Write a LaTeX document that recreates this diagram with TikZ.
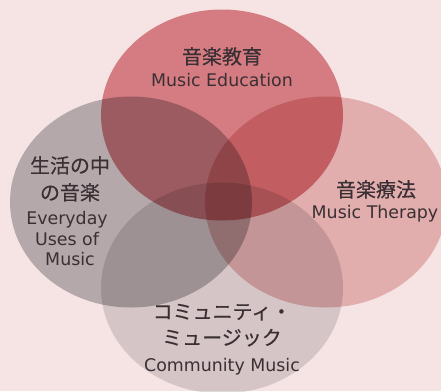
\documentclass[tikz,border=0pt]{standalone}
\usepackage{fontspec}
\setmainfont{DejaVu Sans}
\newfontfamily\jpfont[FakeBold=0.4]{Noto Sans CJK JP}
\usetikzlibrary{shapes.geometric}
\definecolor{bgpink}{HTML}{F6E4E5}
\definecolor{topc}{HTML}{DC8B91}
\definecolor{rightc}{HTML}{EAC2C1}
\definecolor{leftc}{HTML}{BCBDBE}
\definecolor{bottomc}{HTML}{DEDDDE}
\definecolor{txt}{HTML}{3A3034}
\tikzset{
  circ/.style={ellipse, draw=none, minimum width=242pt, minimum height=211pt, inner sep=0pt, blend mode=multiply},
  jp/.style={text=txt, font=\jpfont\fontsize{20pt}{24pt}\selectfont, inner sep=0pt, anchor=base},
  en/.style={text=txt, font=\fontsize{17.4pt}{21pt}\selectfont, inner sep=0pt, anchor=base},
}
\begin{document}
\begin{tikzpicture}[x=1pt,y=-1pt]
\fill[bgpink] (0,0) rectangle (441,391);
\useasboundingbox (0,0) rectangle (441,391);
\node[circ, fill=topc] (top) at (222,115) {};
\node[circ, fill=leftc] (left) at (131,202) {};
\node[circ, fill=rightc] (right) at (326,202) {};
\node[circ, fill=bottomc] (bottom) at (222,288) {};
\node[jp] (t1) at (222,64) {音楽教育};
\node[en] (t2) at (222,86) {Music Education};
\node[jp] (l1) at (70,173) {生活の中};
\node[jp] (l2) at (70,200) {の音楽};
\node[en] (l3) at (67,224) {Everyday};
\node[en] (l4) at (67,245) {Uses of};
\node[en] (l5) at (70,265) {Music};
\node[jp] (r1) at (376,197) {音楽療法};
\node[en] (r2) at (375,218) {Music Therapy};
\node[jp] (b1) at (222,319) {コミュニティ・};
\node[jp] (b2) at (222,345) {ミュージック};
\node[en] (b3) at (222,371) {Community Music};
\end{tikzpicture}
\end{document}
